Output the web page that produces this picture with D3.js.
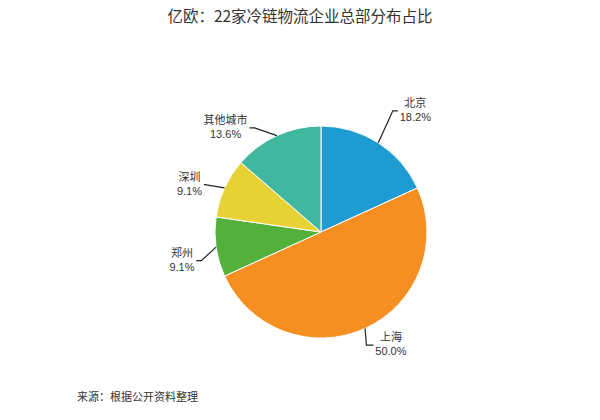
<!DOCTYPE html>
<html>
<head>
<meta charset="utf-8">
<script src="https://cdn.jsdelivr.net/npm/d3@7/dist/d3.min.js"></script>
<style>
  html, body { margin: 0; padding: 0; background: #fff; }
  svg { display: block; font-family: "Noto Sans CJK SC", "Noto Sans", sans-serif; }
</style>
</head>
<body>
<svg id="chart" width="600" height="420"></svg>
<script>
const title = "亿欧：22家冷链物流企业总部分布占比";
const source = "来源：根据公开资料整理";
const categories = ["北京", "上海", "郑州", "深圳", "其他城市"];
const counts = [4, 11, 2, 2, 3];
const percentLabels = ["18.2%", "50.0%", "9.1%", "9.1%", "13.6%"];
const colors = ["#1f9bd3", "#f58f22", "#53b03b", "#e6d234", "#40b79e"];

const svg = d3.select("#chart");
const cx = 321, cy = 232, r = 106;

svg.append("text")
  .attr("x", 300).attr("y", 22)
  .attr("text-anchor", "middle")
  .attr("font-size", 15.5)
  .attr("fill", "#333")
  .text(title);

const data = categories.map((c, i) => ({ name: c, value: counts[i], pct: percentLabels[i], color: colors[i] }));
const pie = d3.pie().value(d => d.value).sort(null);
const arcs = pie(data);
const arc = d3.arc().innerRadius(0).outerRadius(r);

const g = svg.append("g").attr("transform", `translate(${cx},${cy})`);
g.selectAll("path.slice").data(arcs).join("path")
  .attr("class", "slice")
  .attr("d", arc)
  .attr("fill", d => d.data.color)
  .attr("stroke", "#fff")
  .attr("stroke-width", 1);

// label layout: elbow at radius r+25 with small nudges (overlap avoidance), then short horizontal
const nudges = [[1, -11], [-9, -6], [10, 10], [3, 7], [-12, 15]];
const tail = [5, 7, 5, 1, 5];
const R2 = r + 25;
arcs.forEach((a, i) => {
  const m = (a.startAngle + a.endAngle) / 2;
  const p0 = [Math.sin(m) * r, -Math.cos(m) * r];
  const p1 = [Math.sin(m) * R2 + nudges[i][0], -Math.cos(m) * R2 + nudges[i][1]];
  const right = Math.sin(m) > 0;
  const p2 = [p1[0] + (right ? tail[i] : -tail[i]), p1[1]];
  g.append("polyline")
    .attr("points", [p0, p1, p2].map(p => p.join(",")).join(" "))
    .attr("fill", "none")
    .attr("stroke", "#222")
    .attr("stroke-width", 1.2);
  const w = Math.max(a.data.name.length * 11, a.data.pct.length * 6.2);
  const tx = right ? p2[0] + 2 + w / 2 : p2[0] - 2 - w / 2;
  g.append("text")
    .attr("x", tx).attr("y", p2[1] - 4)
    .attr("text-anchor", "middle")
    .attr("font-size", 11)
    .attr("fill", "#333")
    .text(a.data.name);
  g.append("text")
    .attr("x", tx).attr("y", p2[1] + 10)
    .attr("text-anchor", "middle")
    .attr("font-size", 11)
    .attr("font-family", "'Liberation Sans', Arial, sans-serif")
    .attr("fill", "#333")
    .text(a.data.pct);
});

svg.append("text")
  .attr("x", 77).attr("y", 401)
  .attr("font-size", 11)
  .attr("fill", "#333")
  .text(source);
</script>
</body>
</html>
